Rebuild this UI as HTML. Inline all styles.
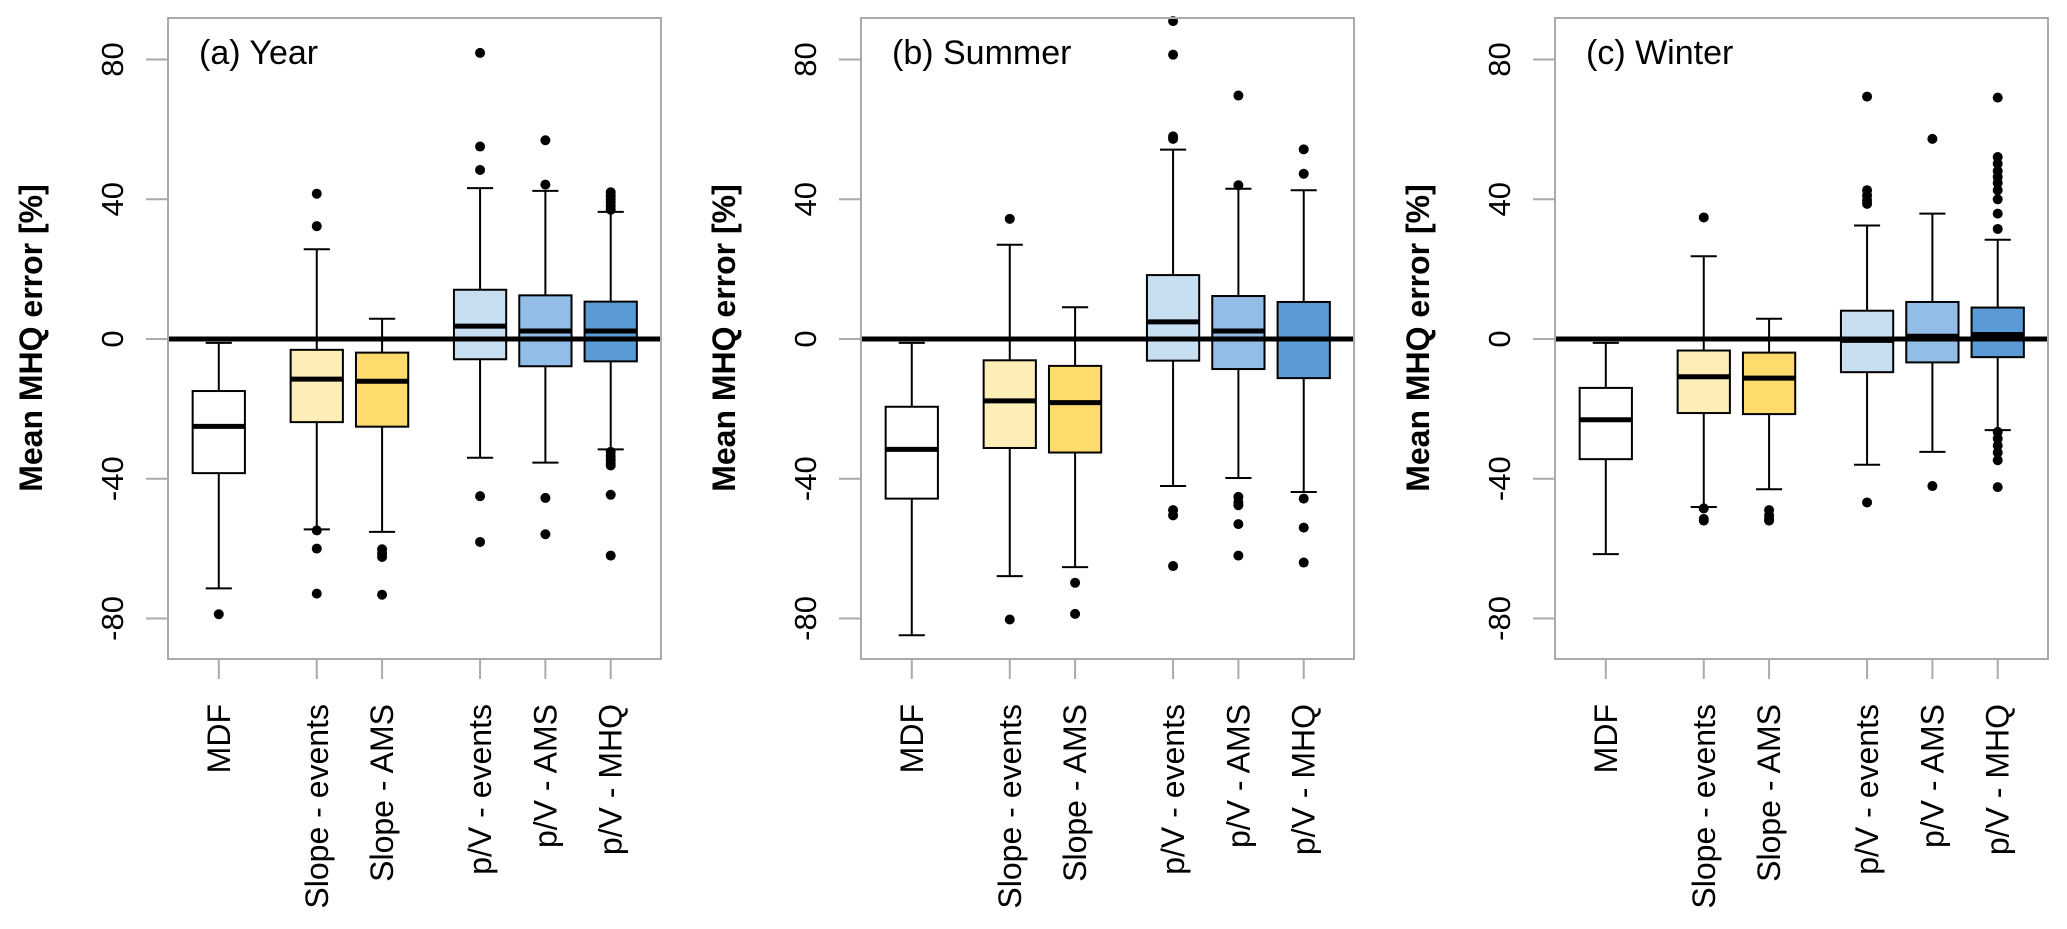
<!DOCTYPE html>
<html><head><meta charset="utf-8">
<style>
html,body{margin:0;padding:0;background:#fff;}
svg{display:block;}
text{font-family:"Liberation Sans",Arial,sans-serif;fill:#000;}
</style></head>
<body>
<svg id="chart" width="2067" height="929" viewBox="0 0 2067 929" xmlns="http://www.w3.org/2000/svg"></svg>
<script>
const categories = ["MDF","Slope - events","Slope - AMS","p/V - events","p/V - AMS","p/V - MHQ"];
const positions = [1,2.5,3.5,5,6,7];
const fills = ["#ffffff","#fdeeb8","#fddb6d","#c8dff2","#92bde6","#5b9bd5"];
const panelTitles = ["(a) Year","(b) Summer","(c) Winter"];
const yTicks = [-80,-40,0,40,80];
// each stat: [lowerWhisker, q1, median, q3, upperWhisker]
const yearStats = [[-71.4,-38.4,-25,-14.9,-1.1],[-54.5,-23.8,-11.5,-3.1,25.7],[-55.2,-25.1,-12.1,-3.9,5.8],[-34,-5.8,3.7,14.1,43.2],[-35.4,-7.8,2.3,12.5,42.4],[-31.6,-6.4,2.3,10.7,36.4]];
const yearOut = [[-78.8],[41.6,32.3,-54.8,-60,-72.9],[-60.2,-61.4,-62.4,-73.2],[81.9,55.1,48.4,-45,-58.1],[56.9,44.2,-45.5,-55.9],[37,38,39,40,41,42,-32.3,-33.5,-34.5,-35.5,-36.2,-44.6,-62]];
const summerStats = [[-84.8,-45.7,-31.6,-19.4,-1.1],[-67.9,-31.2,-17.7,-6.1,27],[-65.3,-32.5,-18.2,-7.7,9.1],[-42.1,-6.2,4.9,18.3,54.2],[-39.8,-8.6,2.3,12.3,43],[-43.8,-11.2,0,10.6,42.6]];
const summerOut = [[],[34.4,-80.3],[-69.8,-78.7],[91,81.4,58,57.3,-49,-50.5,-65],[69.7,44,-45.2,-46.7,-47.6,-53,-62],[54.3,47.3,-45.7,-54,-64]];
const winterStats = [[-61.6,-34.4,-23.1,-14,-1.1],[-48.1,-21.2,-10.8,-3.3,23.7],[-43,-21.5,-11.2,-3.9,5.8],[-36,-9.5,-0.4,8.1,32.5],[-32.3,-6.7,0.8,10.6,35.9],[-26.1,-5.2,1.3,9,28.4]];
const winterOut = [[],[34.8,-48.5,-51.5,-52],[-49,-50.5,-51.5,-52],[69.4,42.6,41.1,39.7,38.7,-46.8],[57.3,-42.1],[69.1,52.1,50.2,48.1,46.4,44.7,42.6,40,35.9,31.5,-26.6,-28.5,-30.5,-32.5,-34.7,-42.4]];
const panelStats = [yearStats, summerStats, winterStats];
const panelOut = [yearOut, summerOut, winterOut];

const NS = "http://www.w3.org/2000/svg";
const svg = document.getElementById("chart");
function mk(tag, attrs, parent){
  const e = document.createElementNS(NS, tag);
  for (const k in attrs) e.setAttribute(k, attrs[k]);
  (parent||svg).appendChild(e);
  return e;
}
const panelLefts = [168, 861, 1555];
const PW = 493, TOP = 18, BOT = 659;
function yScale(v){ return 339 - v * 3.493; }
function xScale(left, p){ return left + PW * (0.103 + (p - 1) * 0.1325); }
const boxW = PW * 0.1325 * 0.8;
const names = ["mdf","slope-events","slope-ams","pv-events","pv-ams","pv-mhq"];
const pnames = ["year","summer","winter"];

panelLefts.forEach((L, pi) => {
  const g = mk("g", {});
  
  
  yTicks.forEach(t => {
    const y = yScale(t);
    const tk = mk("line", {x1:L-22, x2:L, y1:y, y2:y, stroke:"#aaa", "stroke-width":2}, g);
    
    
    const tl = mk("text", {x:0, y:0, "font-size":31, "text-anchor":"middle", transform:`translate(${L-45},${y}) rotate(-90)`}, g);
    tl.textContent = t;
    
    
  });
  const yt = mk("text", {x:0, y:0, "font-size":32, "font-weight":"bold", "text-anchor":"middle", transform:`translate(${L-126},338) rotate(-90)`}, g);
  yt.textContent = "Mean MHQ error [%]";
  
  
  const stats = panelStats[pi], outs = panelOut[pi];
  positions.forEach((p, i) => {
    const cx = xScale(L, p);
    const s = stats[i];
    const bg = mk("g", {}, g);
    
    
    mk("line", {x1:cx, x2:cx, y1:yScale(s[0]), y2:yScale(s[1]), stroke:"#000", "stroke-width":2}, bg);
    mk("line", {x1:cx, x2:cx, y1:yScale(s[3]), y2:yScale(s[4]), stroke:"#000", "stroke-width":2}, bg);
    mk("line", {x1:cx-boxW/4, x2:cx+boxW/4, y1:yScale(s[0]), y2:yScale(s[0]), stroke:"#000", "stroke-width":2}, bg);
    mk("line", {x1:cx-boxW/4, x2:cx+boxW/4, y1:yScale(s[4]), y2:yScale(s[4]), stroke:"#000", "stroke-width":2}, bg);
    mk("rect", {x:cx-boxW/2, y:yScale(s[3]), width:boxW, height:yScale(s[1])-yScale(s[3]), fill:fills[i], stroke:"#000", "stroke-width":2}, bg);
    mk("line", {x1:cx-boxW/2, x2:cx+boxW/2, y1:yScale(s[2]), y2:yScale(s[2]), stroke:"#000", "stroke-width":5}, bg);
    outs[i].forEach(v => {
      const c = mk("circle", {cx:cx, cy:yScale(v), r:5, fill:"#000"}, bg);
      
      
    });
    const xt = mk("line", {x1:cx, x2:cx, y1:BOT, y2:BOT+20, stroke:"#aaa", "stroke-width":2}, g);
    
    
    const xl = mk("text", {x:0, y:0, "font-size":32, "text-anchor":"end", transform:`translate(${cx+11},704) rotate(-90)`}, g);
    xl.textContent = categories[i];
    
    
  });
  const zl = mk("line", {x1:L, x2:L+PW, y1:yScale(0), y2:yScale(0), stroke:"#000", "stroke-width":5}, g);
  
  
  const fr = mk("rect", {x:L, y:TOP, width:PW, height:BOT-TOP, fill:"none", stroke:"#aaa", "stroke-width":2}, g);
  
  
  const pt = mk("text", {x:L+31, y:64, "font-size":34}, g);
  pt.textContent = panelTitles[pi];
  
  
});
</script>
</body></html>
